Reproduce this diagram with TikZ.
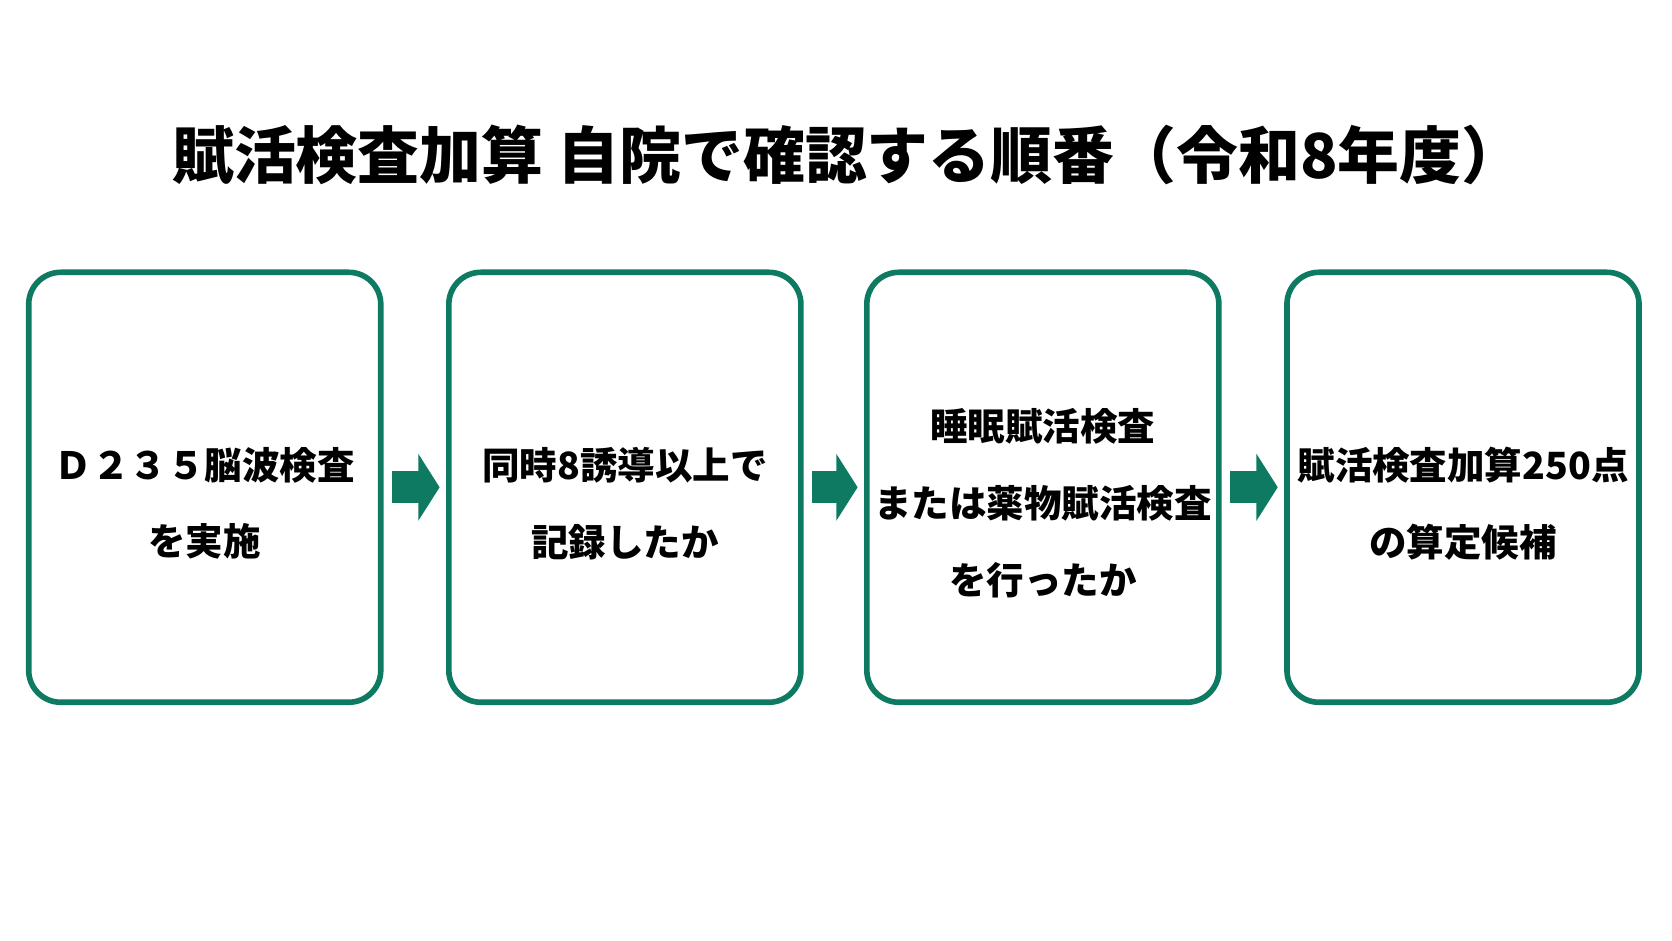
\documentclass[tikz,border=0pt]{standalone}
\usepackage{fontspec}
\setmainfont{Noto Sans CJK JP}
\usetikzlibrary{positioning,arrows.meta}
\definecolor{stepgreen}{HTML}{0E7A62}

\tikzset{
  stepbox/.style={draw=stepgreen,line width=1.5pt,rounded corners=0.3cm,
    minimum width=3.3cm,minimum height=4.03cm,inner sep=0pt},
  steptext/.style={align=center,font=\fontsize{10}{20.5}\selectfont\bfseries,
    inner sep=0pt,yshift=-0.15cm},
  flow/.style={stepgreen,line width=0.3cm,-{Triangle[length=0.2cm,width=0.62cm]},
    shorten <=0.08cm,shorten >=0.06cm}
}

\begin{document}
\begin{tikzpicture}[x=0.01cm,y=0.01cm]
\useasboundingbox (0,0) rectangle (1568,882);

\node[font=\fontsize{16.5}{20}\selectfont\bfseries] (title) at (795,737)
  {賦活検査加算\ 自院で確認する順番（令和8年度）};

\node[stepbox] (s1) at (192,425) {};
\node[stepbox] (s2) at (586,425) {};
\node[stepbox] (s3) at (978,425) {};
\node[stepbox] (s4) at (1372,425) {};

\node[steptext] (t1) at (s1.center) {Ｄ２３５脳波検査\\を実施};
\node[steptext] (t2) at (s2.center) {同時8誘導以上で\\記録したか};
\node[steptext] (t3) at (s3.center) {睡眠賦活検査\\または薬物賦活検査\\を行ったか};
\node[steptext] (t4) at (s4.center) {賦活検査加算250点\\の算定候補};

\draw[flow] (s1.east) -- (s2.west);
\draw[flow] (s2.east) -- (s3.west);
\draw[flow] (s3.east) -- (s4.west);
\end{tikzpicture}
\end{document}
